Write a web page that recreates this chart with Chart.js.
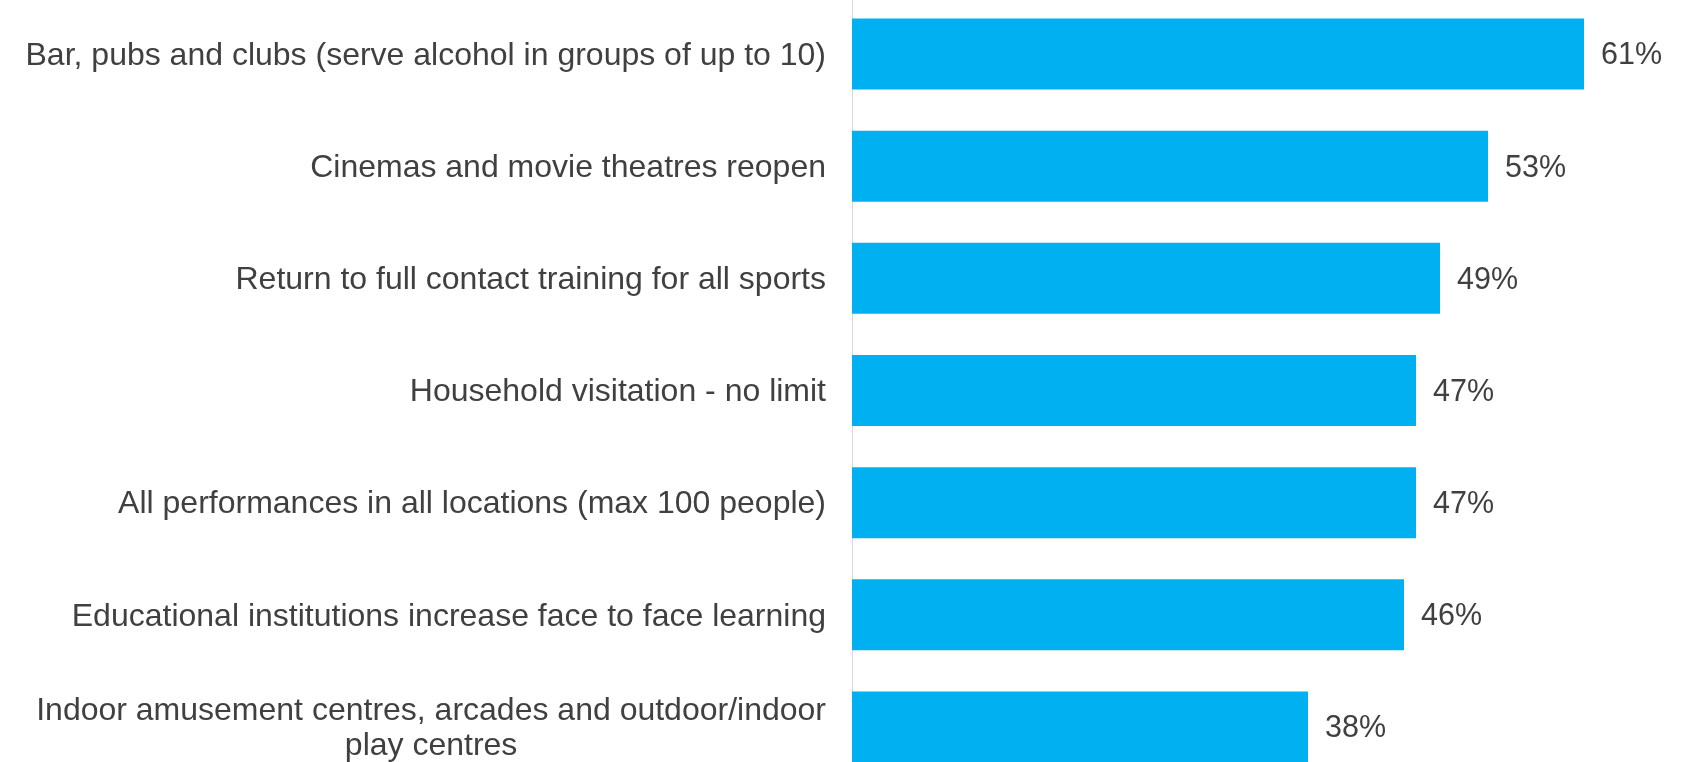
<!DOCTYPE html>
<html>
<head>
<meta charset="utf-8">
<script src="https://cdn.jsdelivr.net/npm/chart.js@4.4.0/dist/chart.umd.min.js"></script>
<style>
  html, body { margin: 0; padding: 0; background: #ffffff; overflow: hidden; }
  #wrap { position: absolute; left: 0; top: -2px; width: 1681px; height: 785px; }
</style>
</head>
<body>
<div id="wrap"><canvas id="resultPlot"></canvas></div>
<script>
// chart data
const categories = [
    ['Bar, pubs and clubs (serve alcohol in groups of up to 10)'],
    ['Cinemas and movie theatres reopen'],
    ['Return to full contact training for all sports'],
    ['Household visitation - no limit'],
    ['All performances in all locations (max 100 people)'],
    ['Educational institutions increase face to face learning'],
    ['Indoor amusement centres, arcades and outdoor/indoor', 'play centres']
];
const shares = [61, 53, 49, 47, 47, 46, 38];

const labelFont = '32px "Liberation Sans", Arial, sans-serif';
const valueFont = '30.5px "Liberation Sans", Arial, sans-serif';
const textColour = '#404040';

/**
 * draw category names left of the axis, multi line ones centred in their block
 */
const categoryLabels = {
    id: 'categoryLabels',
    afterDraw(chart) {
        let ctx = chart.ctx;
        let yScale = chart.scales.y;
        let rightEdge = yScale.right - 26;
        ctx.save();
        ctx.font = labelFont;
        ctx.fillStyle = textColour;
        ctx.textBaseline = 'middle';
        ctx.textAlign = 'center';
        for (let i = 0; i < categories.length; i++) {
            let lines = categories[i];
            let blockWidth = 0;
            lines.forEach(function(line) {
                blockWidth = Math.max(blockWidth, ctx.measureText(line).width);
            });
            let centreX = rightEdge - blockWidth / 2;
            let lineHeight = 35;
            let yMid = yScale.getPixelForTick(i) + 2;
            let startY = yMid - (lines.length - 1) * lineHeight / 2;
            for (let j = 0; j < lines.length; j++) {
                ctx.fillText(lines[j], centreX, startY + j * lineHeight);
            }
        }
        ctx.restore();
    }
};

/**
 * percentage labels at the end of each bar
 */
const valueLabels = {
    id: 'valueLabels',
    afterDatasetsDraw(chart) {
        let ctx = chart.ctx;
        let meta = chart.getDatasetMeta(0);
        ctx.save();
        ctx.font = valueFont;
        ctx.fillStyle = textColour;
        ctx.textBaseline = 'middle';
        ctx.textAlign = 'left';
        meta.data.forEach(function(bar, i) {
            ctx.fillText(shares[i] + '%', bar.x + 17, bar.y + 2);
        });
        ctx.restore();
    }
};

let chartObject = {};
chartObject['type'] = 'bar';
chartObject['data'] = {
    labels: categories.map(function(c) { return c.join(' '); }),
    datasets: [{
        label: 'Share',
        data: shares,
        backgroundColor: '#00B0F0',
        borderWidth: 0,
        barPercentage: 0.633,
        categoryPercentage: 1.0
    }]
};
chartObject['options'] = {
    indexAxis: 'y',
    responsive: true,
    maintainAspectRatio: false,
    animation: false,
    layout: { padding: { top: 0, bottom: 0, left: 0, right: 49 } },
    plugins: {
        legend: { display: false },
        tooltip: { enabled: false }
    },
    scales: {
        x: {
            display: false,
            min: 0,
            max: 65
        },
        y: {
            ticks: { display: false },
            grid: { display: false },
            border: { display: true, color: '#d9d9d9', width: 1 },
            afterFit: function(scale) { scale.width = 852; }
        }
    }
};
chartObject['plugins'] = [categoryLabels, valueLabels];

let plotArea = document.getElementById('resultPlot');
let barPlot = new Chart(plotArea, chartObject);
</script>
</body>
</html>
